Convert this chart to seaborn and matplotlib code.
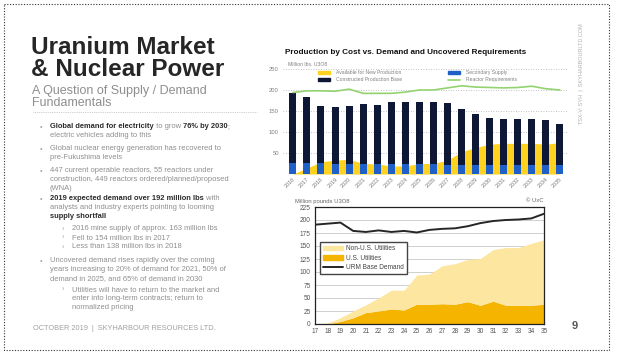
import numpy as np
import pandas as pd
import matplotlib
matplotlib.use("Agg")
import matplotlib.pyplot as plt
import seaborn as sns
from matplotlib.patches import Patch, Rectangle
from matplotlib.lines import Line2D

# ---------------- data ----------------
years_top = [str(y) for y in range(2016, 2036)]
total_production = [193, 183, 163, 159, 163, 166, 165, 172, 172, 172,
                    172, 170, 154, 143, 133, 130, 130, 130, 129, 119]
secondary_supply = [26, 26, 26, 25, 24, 24, 24, 23, 23, 23,
                    23, 22, 22, 22, 22, 22, 22, 22, 22, 22]
new_production = [0, 14, 29, 33, 35, 25, 24, 19, 19, 25,
                  25, 33, 53, 63, 71, 73, 73, 73, 71, 75]
reactor_requirements = [194, 198, 198, 197, 202, 192, 192, 192, 195, 200,
                        200, 205, 210, 207, 206, 205, 206, 209, 203, 200]

years_bottom = list(range(17, 36))
us_utilities = [0, 0, 5, 12, 22, 25, 29, 27, 38, 38, 39, 38, 43, 36, 44, 36, 36, 36, 38]
non_us_utilities = [0, 2, 7, 13, 15, 25, 36, 38, 56, 58, 73, 78, 81, 90, 99, 111, 111, 119, 124]
urm_base_demand = [191, 193, 195, 179, 177, 180, 177, 179, 176, 181,
                   183, 184, 188, 194, 198, 200, 201, 203, 212]

# ---------------- style ----------------
sns.set_theme(style="white")
plt.rcParams['font.family'] = ['Liberation Sans', 'DejaVu Sans']

NAVY = '#0e1836'
BLUE = '#1f5fc8'
YELLOW = '#ffd21f'
GREEN = '#93d36f'
ORANGE = '#f4b400'
LIGHT = '#fce6a0'
DARK = '#2b2b2b'
GRAY = '#8e8e8e'

W, H = 622, 356
fig = plt.figure(figsize=(W / 100, H / 100), dpi=100)
fig.patch.set_facecolor('white')

bg = fig.add_axes([0, 0, 1, 1])
bg.set_xlim(0, W)
bg.set_ylim(H, 0)
bg.axis('off')


def frac(x0, y0, x1, y1):
    return [x0 / W, 1 - y1 / H, (x1 - x0) / W, (y1 - y0) / H]


# slide border
bg.add_patch(Rectangle((4, 4), 605, 346, fill=False, ls=(0, (1, 1.5)), lw=0.8, ec='#333333'))

# ---------------- left text ----------------
bg.text(31, 48, "Uranium Market", fontsize=17.5, fontweight='bold', color='#262626', va='center')
bg.text(31, 70, "& Nuclear Power", fontsize=17.5, fontweight='bold', color='#262626', va='center')
bg.text(32, 91, "A Question of Supply / Demand", fontsize=9.0, color=GRAY, va='center')
bg.text(32, 102.5, "Fundamentals", fontsize=9.0, color=GRAY, va='center')
bg.plot([33, 257], [112, 112], ls=(0, (1, 1.2)), lw=0.6, color='#bbbbbb')

FS = 5.4


def rich_line(x, y, segs):
    prev = None
    for s, bold in segs:
        kw = dict(fontsize=FS, color=DARK if bold else GRAY,
                  fontweight='bold' if bold else 'normal')
        if prev is None:
            prev = bg.text(x, y, s, ha='left', va='center', **kw)
        else:
            prev = bg.annotate(s, xy=(1, 0), xycoords=prev, ha='left', va='bottom', **kw)


paragraphs = [
    (127, 0, [[("Global demand for electricity", True), (" to grow ", False), ("76% by 2030", True), (";", False)],
              [("electric vehicles adding to this", False)]]),
    (149, 0, [[("Global nuclear energy generation has recovered to", False)],
              [("pre-Fukushima levels", False)]]),
    (171, 0, [[("447 current operable reactors, 55 reactors under", False)],
              [("construction, 449 reactors ordered/planned/proposed", False)],
              [("(WNA)", False)]]),
    (199, 0, [[("2019 expected demand over 192 million lbs", True), (" with", False)],
              [("analysts and industry experts pointing to looming", False)],
              [("supply shortfall", True)]]),
    (229, 1, [[("2016 mine supply of approx. 163 million lbs", False)]]),
    (238, 1, [[("Fell to 154 million lbs in 2017", False)]]),
    (247, 1, [[("Less than 138 million lbs in 2018", False)]]),
    (261, 0, [[("Uncovered demand rises rapidly over the coming", False)],
              [("years increasing to 20% of demand for 2021, 50% of", False)],
              [("demand in 2025, and 65% of demand in 2030", False)]]),
    (290, 1, [[("Utilities will have to return to the market and", False)],
              [("enter into long-term contracts; return to", False)],
              [("normalized pricing", False)]]),
]
LH = 8.6
for y0, lvl, lines in paragraphs:
    mx, tx = (40, 50) if lvl == 0 else (62, 72)
    bg.text(mx, y0, "•" if lvl == 0 else "›", fontsize=FS, color='#9aaac0', ha='left', va='center')
    for i, segs in enumerate(lines):
        rich_line(tx, y0 + i * LH, segs)

bg.text(33, 328, "OCTOBER 2019  |  SKYHARBOUR RESOURCES LTD.", fontsize=5.3, color='#a0a0a0', va='center')
bg.text(575, 326, "9", fontsize=8, fontweight='bold', color='#555555', va='center', ha='center')
bg.text(582, 74, "TSX-V: SYH  |  SKYHARBOURLTD.COM", fontsize=4.0, color='#b0b0b0',
        rotation=90, ha='center', va='center')

# ---------------- top chart ----------------
ax1 = fig.add_axes(frac(283, 69, 567, 174))
ax1.set_facecolor('white')
pos = np.arange(len(years_top))
ax1.fill_between(pos, 0, new_production, color=YELLOW, lw=0, zorder=0.8)
sns.barplot(x=pos, y=total_production, color=NAVY, width=0.5, saturation=1,
            linewidth=0, ax=ax1, zorder=2)
sns.barplot(x=pos, y=secondary_supply, color=BLUE, width=0.5, saturation=1,
            linewidth=0, ax=ax1, zorder=2.1)
sns.lineplot(x=pos, y=reactor_requirements, color=GREEN, lw=1.2, ax=ax1, legend=False, zorder=3)
ax1.set_xticks(pos)
ax1.set_xticklabels(years_top, rotation=45, ha='right', rotation_mode='anchor',
                    fontsize=3.9, color='#777777')
ax1.set_xlim(-0.7, 19.5)
ax1.set_ylim(0, 250)
ax1.set_yticks([50, 100, 150, 200, 250])
ax1.tick_params(axis='y', labelsize=4.2, labelcolor='#808080', length=0, pad=3)
ax1.tick_params(axis='x', length=0, pad=2)
ax1.yaxis.grid(True, ls=(0, (1, 2)), color='#b0b0b0', lw=0.6)
ax1.set_axisbelow(True)
ax1.set_xlabel('')
ax1.set_ylabel('')
for s in ax1.spines.values():
    s.set_visible(False)

bg.text(285, 52, "Production by Cost vs. Demand and Uncovered Requirements",
        fontsize=5.9, fontweight='bold', color='#111111', va='center')
bg.text(288, 64, "Million lbs. U3O8", fontsize=3.7, color='#808080', va='center')

leg_kw = dict(loc='upper left', bbox_transform=fig.transFigure, frameon=False, fontsize=3.6,
              handlelength=2.4, handleheight=0.6, handletextpad=1.2, labelspacing=0.45,
              borderpad=0, borderaxespad=0, labelcolor='#808080')
fig.legend(handles=[Patch(color=YELLOW), Patch(color=NAVY)],
           labels=["Available for New Production", "Constructed Production Base"],
           bbox_to_anchor=(318 / W, 1 - 70 / H), **leg_kw)
fig.legend(handles=[Patch(color=BLUE), Line2D([], [], color=GREEN, lw=1.2)],
           labels=["Secondary Supply", "Reactor Requirements"],
           bbox_to_anchor=(448 / W, 1 - 70 / H), **leg_kw)

# ---------------- bottom chart ----------------
ax2 = fig.add_axes(frac(315, 207, 544, 324))
ax2.set_facecolor('white')
ax2.stackplot(years_bottom, us_utilities, non_us_utilities, colors=[ORANGE, LIGHT], lw=0, zorder=1)
sns.lineplot(x=years_bottom, y=urm_base_demand, color='#262626', lw=1.4, ax=ax2, legend=False, zorder=3)
ax2.set_xlim(17, 35)
ax2.set_ylim(0, 225)
ax2.set_xticks(years_bottom)
ax2.set_yticks(range(0, 226, 25))
ax2.tick_params(labelsize=4.7, labelcolor='#555555', length=0, pad=3)
ax2.yaxis.grid(True, color='#c8c8c8', lw=0.6)
ax2.set_axisbelow(True)
ax2.set_xlabel('')
ax2.set_ylabel('')
for s in ax2.spines.values():
    s.set_visible(True)
    s.set_color('#222222')
    s.set_linewidth(0.9)

bg.text(295, 201, "Million pounds U3O8", fontsize=4.2, color='#666666', va='center')
bg.text(543, 201, "© UxC", fontsize=4.2, color='#666666', va='center', ha='right')

ax2.legend(handles=[Patch(color=LIGHT), Patch(color=ORANGE), Line2D([], [], color='#262626', lw=1.4)],
           labels=["Non-U.S. Utilities", "U.S. Utilities", "URM Base Demand"],
           loc='upper left', bbox_to_anchor=(320 / W, 1 - 242 / H), bbox_transform=fig.transFigure,
           frameon=True, fancybox=False, edgecolor='#444444', framealpha=1, fontsize=4.7,
           handlelength=3, handleheight=0.7, handletextpad=0.5, labelspacing=0.35,
           borderpad=0.5, borderaxespad=0, labelcolor='#444444')

fig.savefig("out.png", dpi=100, facecolor='white')
